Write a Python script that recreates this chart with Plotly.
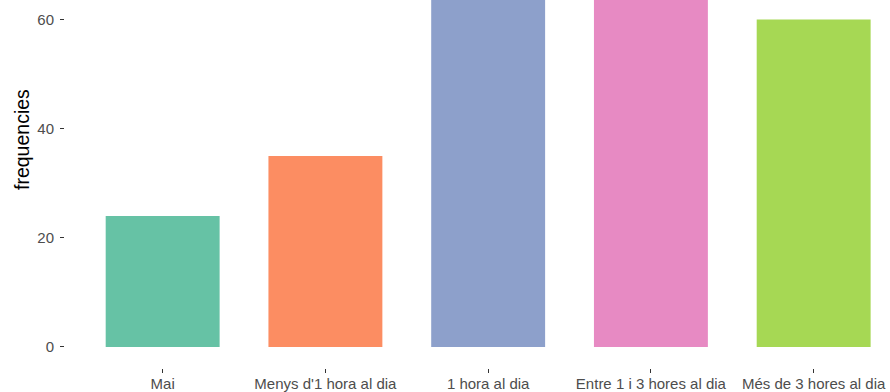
import plotly.graph_objects as go

categories = ["Mai", "Menys d'1 hora al dia", "1 hora al dia", "Entre 1 i 3 hores al dia", "Més de 3 hores al dia"]
values = [24, 35, 77, 72, 60]
colors = ["#66c2a5", "#fc8d62", "#8da0cb", "#e78ac3", "#a6d854"]
yticks = [0, 20, 40, 60]
ytitle = "frequencies"

fig = go.Figure(go.Bar(x=categories, y=values, marker=dict(color=colors, line=dict(width=0)), width=0.7))

fig.update_layout(
    width=890, height=392,
    margin=dict(l=65, r=0, t=0, b=24),
    plot_bgcolor="white", paper_bgcolor="white",
    font=dict(family="Liberation Sans, Arial, sans-serif"),
    showlegend=False,
)
fig.update_xaxes(
    range=[-0.6, 4.469], showgrid=False, zeroline=False, showline=False,
    ticks="outside", ticklen=4, tickcolor="#333333",
    tickfont=dict(size=15, color="#4d4d4d"),
    automargin=False, ticklabelstandoff=-2,
)
fig.update_yaxes(
    range=[-3.85, 63.55], tickvals=yticks, showgrid=False, zeroline=False, showline=False,
    ticks="outside", ticklen=4, tickcolor="#333333",
    tickfont=dict(size=15, color="#4d4d4d"),
    automargin=False, ticklabelstandoff=3,
)
fig.add_annotation(
    text=ytitle, textangle=-90, xref="paper", yref="paper",
    x=-(65 - 22) / 825, y=(368 - 140) / 368, xanchor="center", yanchor="middle",
    showarrow=False, font=dict(size=19.5, color="black"),
)
fig.write_html(
    "out.html",
    config={"displayModeBar": False},
    post_script="document.body.style.margin='0';document.body.style.overflow='hidden';",
)
